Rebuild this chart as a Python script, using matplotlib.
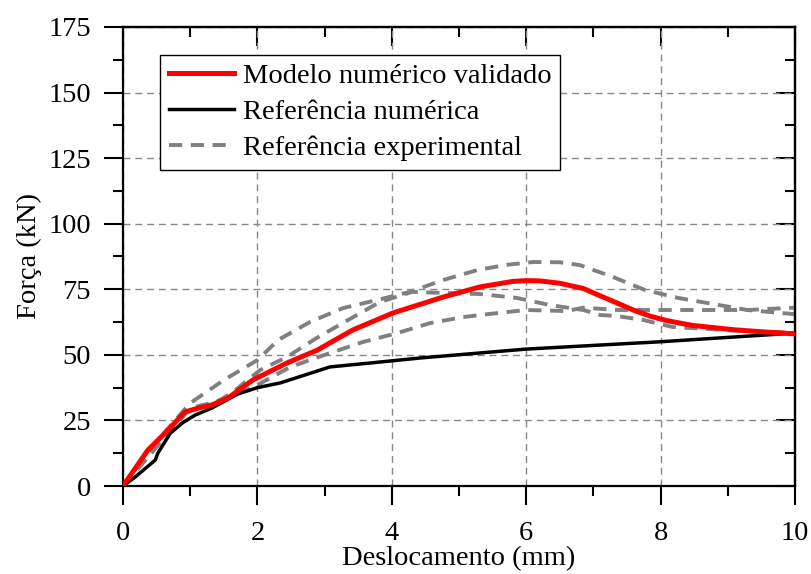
import numpy as np
import matplotlib.pyplot as plt
from matplotlib.ticker import MultipleLocator

plt.rcParams["font.family"] = ["Liberation Serif", "DejaVu Serif"]
plt.rcParams["font.size"] = 20.5

# Modelo numerico validado
red_x = [0, 0.37, 0.67, 0.92, 1.12, 1.32, 1.56, 1.93, 2.44, 2.89, 3.42, 4.02,
         4.76, 5.31, 5.8, 6.0, 6.2, 6.5, 6.85, 7.1, 7.35, 7.6, 7.84, 8.1,
         8.48, 9.08, 9.5, 10]
red_y = [0, 13.7, 21.3, 28.2, 29.7, 30.9, 33.5, 40.4, 46.9, 51.8, 59.5, 66,
         72, 75.9, 78.0, 78.3, 78.2, 77.3, 75.3, 72.5, 69.8, 67, 64.8, 63.0,
         61.2, 59.6, 58.8, 58]

# Referencia numerica
blk_x = [0, 0.18, 0.48, 0.52, 0.7, 0.88, 1.07, 1.32, 1.7, 2.0, 2.34, 3.08,
         3.68, 4.42, 6.0, 8.0, 10]
blk_y = [0, 3.4, 9.9, 12.6, 20, 24, 27, 29.7, 35, 37.5, 39.3, 45.4,
         46.9, 48.8, 52.2, 55, 58.3]

# Referencia experimental (three curves)
exp1_x = [0, 0.5, 1.0, 1.5, 2.0, 2.31, 2.78, 3.27, 3.78, 4.27, 4.76, 5.27,
          5.7, 6.1, 6.5, 6.8, 7.29, 7.77, 8.26, 8.78, 9.29, 9.78, 10]
exp1_y = [0, 17, 31.6, 40.4, 48, 55.7, 62.5, 67.8, 70.9, 74, 78.5, 82.3,
          84.3, 85.4, 85.3, 84.2, 79.7, 74.7, 71.7, 69.4, 67.1, 66, 65.5]

exp2_x = [0, 0.5, 1.0, 1.32, 1.62, 2.04, 2.44, 2.88, 3.35, 3.82, 4.3, 4.79,
          5.31, 5.86, 6.35, 6.85, 7.1, 7.35, 7.74, 8.18, 8.7, 9.18, 9.67, 10]
exp2_y = [0, 15, 29.7, 30.9, 35.5, 44.2, 49.2, 56.4, 63.3, 70.1, 74, 73.6,
          73.2, 71.7, 69, 67.1, 65.2, 64.8, 63.3, 60.6, 59.9, 59.1, 58.7, 58.3]

exp3_x = [0, 0.5, 1.0, 1.3, 1.6, 2.0, 2.49, 3.08, 3.57, 4.08, 4.57, 5.06,
          5.42, 6.0, 6.6, 6.85, 7.37, 8.0, 8.6, 9.3, 10]
exp3_y = [0, 15, 29.7, 31.6, 34, 38.5, 45.4, 50.7, 54.9, 58.3, 62.1, 64.4,
          65.5, 67.1, 66.7, 68, 67.1, 67.1, 67.1, 67.1, 68]

x_ticks = [0, 2, 4, 6, 8, 10]
y_ticks = [0, 25, 50, 75, 100, 125, 150, 175]

fig = plt.figure(figsize=(8.11, 5.74), dpi=100)
ax = fig.add_axes([0.1517, 0.1533, 0.8286, 0.7997])

gray = "#808080"
dash = (3.4, 2.2)
ax.plot(exp1_x, exp1_y, color=gray, lw=2.8, dashes=dash, zorder=2)
ax.plot(exp2_x, exp2_y, color=gray, lw=2.8, dashes=dash, zorder=2)
ax.plot(exp3_x, exp3_y, color=gray, lw=2.8, dashes=dash, zorder=2)
ax.plot(blk_x, blk_y, color="black", lw=2.5, zorder=3)
ax.plot(red_x, red_y, color="red", lw=3.6, zorder=4)

# legend handles (one entry for the experimental curves)
h_red, = ax.plot([], [], color="red", lw=3.6)
h_blk, = ax.plot([], [], color="black", lw=2.5)
h_exp, = ax.plot([], [], color=gray, lw=2.8, dashes=dash)
leg = ax.legend([h_red, h_blk, h_exp],
                ["Modelo numérico validado", "Referência numérica",
                 "Referência experimental"],
                loc="upper left", bbox_to_anchor=(0.055, 0.94),
                fancybox=False, shadow=False, framealpha=1,
                handlelength=2.3, handletextpad=0.3, labelspacing=0.36,
                borderpad=0.3, borderaxespad=0, fontsize=20.5)
leg.get_frame().set_edgecolor("black")
leg.get_frame().set_linewidth(1.0)

ax.set_xlim(0, 10)
ax.set_ylim(0, 175)
ax.set_xticks(x_ticks)
ax.set_yticks(y_ticks)
ax.xaxis.set_minor_locator(MultipleLocator(1))
ax.yaxis.set_minor_locator(MultipleLocator(12.5))
ax.grid(True, which="major", color="#888888", lw=1.0, dashes=(5, 3.5))

ax.tick_params(which="major", direction="out", length=14, width=1.5, pad=9,
               labelsize=20.5)
ax.tick_params(axis="x", which="major", pad=11)
ax.tick_params(which="minor", direction="out", length=7, width=1.5)
for s in ax.spines.values():
    s.set_linewidth(1.6)

top = ax.secondary_xaxis("top")
top.set_xticks(x_ticks)
top.xaxis.set_minor_locator(MultipleLocator(1))
top.tick_params(which="major", direction="in", length=14, width=1.5,
                labeltop=False)
top.tick_params(which="minor", direction="in", length=7, width=1.5)
right = ax.secondary_yaxis("right")
right.set_yticks(y_ticks)
right.yaxis.set_minor_locator(MultipleLocator(12.5))
right.tick_params(which="major", direction="in", length=14, width=1.5,
                  labelright=False)
right.tick_params(which="minor", direction="in", length=7, width=1.5)
top.spines["top"].set_linewidth(1.6)
right.spines["right"].set_linewidth(1.6)

ax.set_xlabel("Deslocamento (mm)", fontsize=20.5, labelpad=0)
ax.set_ylabel("Força (kN)", fontsize=20.5, labelpad=5)

fig.savefig("out.png", dpi=100)
